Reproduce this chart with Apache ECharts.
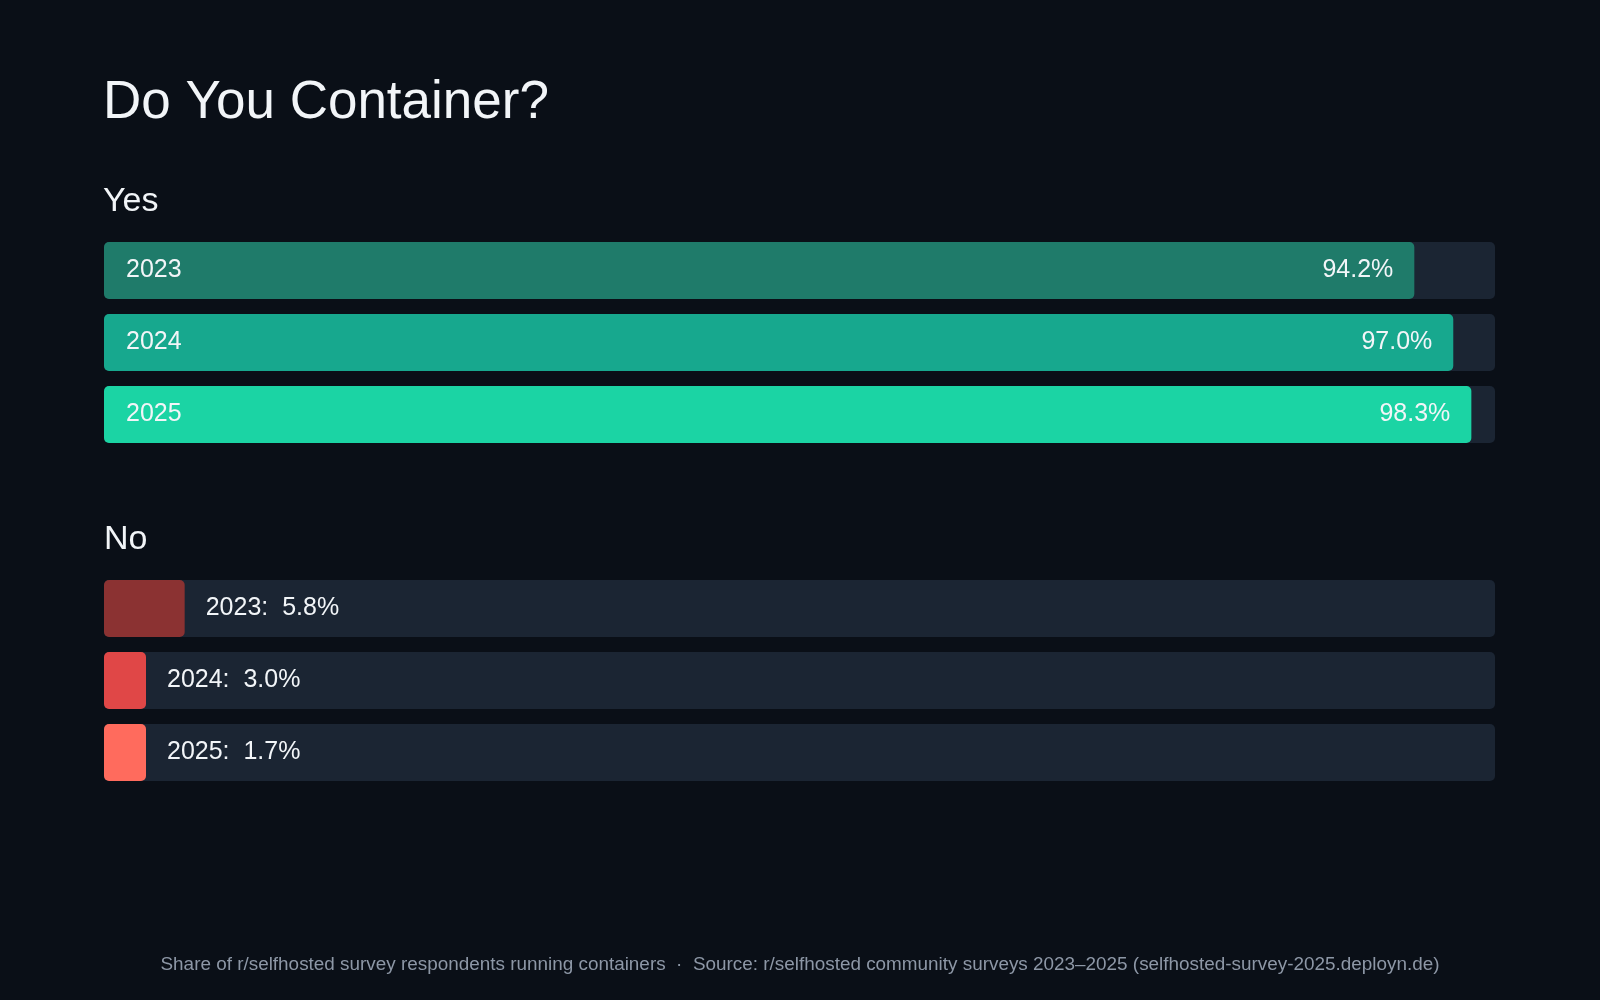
<!DOCTYPE html>
<html>
<head>
<meta charset="utf-8">
<title>Do You Container?</title>
<script src="https://cdn.jsdelivr.net/npm/echarts@6/dist/echarts.min.js"></script>
<style>
    html, body { margin: 0; padding: 0; background: #0a0f17; }
    #chart { width: 1600px; height: 1000px; }
</style>
</head>
<body>
<div id="chart"></div>
<script>
// survey data
var years = ['2023', '2024', '2025'];
var yesShare = [94.2, 97.0, 98.3];
var noShare = [5.8, 3.0, 1.7];

var titleText = 'Do You Container?';
var yesLabel = 'Yes';
var noLabel = 'No';
var footerText = 'Share of r/selfhosted survey respondents running containers  \u00b7  Source: r/selfhosted community surveys 2023\u20132025 (selfhosted-survey-2025.deployn.de)';

// colours per year
var yesColors = ['#1f7b6a', '#17a88e', '#1bd4a4'];
var noColors = ['#8b3232', '#e04747', '#ff6b5d'];

var FONT = '"Liberation Sans", Arial, Helvetica, sans-serif';
var TEXT = '#f2f5f8';
var TRACK = '#1b2533';

var chart = echarts.init(document.getElementById('chart'), null, { renderer: 'canvas' });

function coloured(values, colors) {
    return values.map(function (v, i) {
        return { value: v, itemStyle: { color: colors[i] } };
    });
}

var option = {
    backgroundColor: '#0a0f17',
    animation: false,
    textStyle: { fontFamily: FONT },
    graphic: [
        {
            type: 'text', left: 103, top: 77,
            style: { text: titleText, fill: TEXT, font: '53px ' + FONT }
        },
        {
            type: 'text', left: 103, top: 185,
            style: { text: yesLabel, fill: TEXT, font: '34px ' + FONT }
        },
        {
            type: 'text', left: 104, top: 523,
            style: { text: noLabel, fill: TEXT, font: '34px ' + FONT }
        },
        {
            type: 'text', left: 'center', top: 955,
            style: { text: footerText, fill: '#8d97a6', font: '18.9px ' + FONT }
        }
    ],
    grid: [
        { left: 104, right: 105, top: 234.5, height: 216 },
        { left: 104, right: 105, top: 572.5, height: 216 }
    ],
    xAxis: [
        { gridIndex: 0, type: 'value', min: 0, max: 100, show: false },
        { gridIndex: 1, type: 'value', min: 0, max: 100, show: false }
    ],
    yAxis: [
        { gridIndex: 0, type: 'category', data: years, inverse: true, show: false },
        { gridIndex: 1, type: 'category', data: years, inverse: true, show: false }
    ],
    series: [
        {
            // Yes bars with value on the right end
            type: 'bar',
            xAxisIndex: 0, yAxisIndex: 0,
            data: coloured(yesShare, yesColors),
            barWidth: 57,
            showBackground: true,
            backgroundStyle: { color: TRACK, borderRadius: 5 },
            itemStyle: { borderRadius: 5 },
            label: {
                show: true,
                position: 'insideRight',
                distance: 21,
                color: TEXT,
                fontSize: 25,
                fontFamily: FONT,
                formatter: function (p) { return p.value.toFixed(1) + '%'; }
            },
            z: 2
        },
        {
            // transparent overlay carrying the year label
            type: 'bar',
            xAxisIndex: 0, yAxisIndex: 0,
            data: yesShare,
            barWidth: 57,
            barGap: '-100%',
            itemStyle: { color: 'rgba(0,0,0,0)' },
            label: {
                show: true,
                position: 'insideLeft',
                distance: 22,
                color: TEXT,
                fontSize: 25,
                fontFamily: FONT,
                formatter: '{b}'
            },
            silent: true,
            z: 3
        },
        {
            // No bars, label after the bar end
            type: 'bar',
            xAxisIndex: 1, yAxisIndex: 1,
            data: coloured(noShare, noColors),
            barWidth: 57,
            barMinHeight: 42,
            showBackground: true,
            backgroundStyle: { color: TRACK, borderRadius: 5 },
            itemStyle: { borderRadius: 5 },
            label: {
                show: true,
                position: 'right',
                distance: 21,
                color: TEXT,
                fontSize: 25,
                fontFamily: FONT,
                formatter: function (p) { return p.name + ':  ' + p.value.toFixed(1) + '%'; }
            }
        }
    ]
};

chart.setOption(option);

window.addEventListener('resize', function () {
    chart.resize();
});
</script>
</body>
</html>
